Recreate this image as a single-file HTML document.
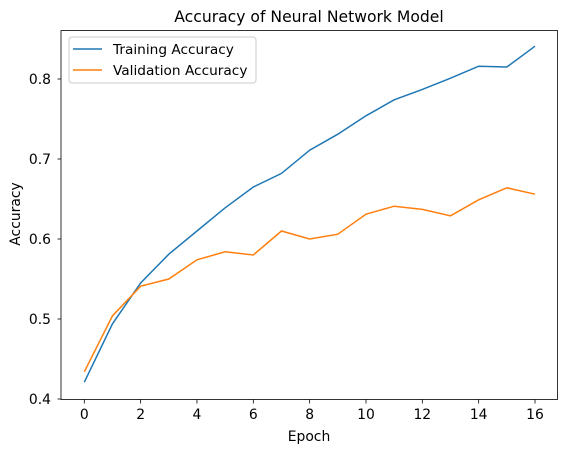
<!DOCTYPE html>
<html><head><meta charset="utf-8"><style>
body{margin:0;background:#fff;}
svg text{font-family:"DejaVu Sans","Liberation Sans",sans-serif;fill:#000;}
</style></head><body>
<svg id="chart" width="567" height="453">
<rect x="0" y="0" width="567" height="453" fill="#fff"/>
<text x="309" y="22" font-size="15.6" text-anchor="middle">Accuracy of Neural Network Model</text>
<g id="ticks"></g>
<g id="series"></g>
<rect x="61" y="30.5" width="496.5" height="369" fill="none" stroke="#000" stroke-width="0.8"/>
<text x="309" y="441" font-size="13.9" text-anchor="middle">Epoch</text>
<text x="20" y="214" font-size="13.9" text-anchor="middle" transform="rotate(-90 20 214)">Accuracy</text>
<g>
<rect x="69" y="37" width="187" height="46" rx="3" fill="#fff" fill-opacity="0.8" stroke="#ccc"/>
<line x1="73" y1="49" x2="102" y2="49" stroke="#1f77b4" stroke-width="1.5"/>
<text x="113" y="54" font-size="13.7">Training Accuracy</text>
<line x1="73" y1="70" x2="102" y2="70" stroke="#ff7f0e" stroke-width="1.5"/>
<text x="113" y="75" font-size="13.7">Validation Accuracy</text>
</g>
</svg>
<script>
const epochs=[0,1,2,3,4,5,6,7,8,9,10,11,12,13,14,15,16];
const trainAcc=[0.421,0.494,0.545,0.581,0.610,0.639,0.665,0.682,0.711,0.731,0.754,0.774,0.787,0.801,0.816,0.815,0.841];
const valAcc=[0.434,0.504,0.541,0.550,0.574,0.584,0.580,0.610,0.600,0.606,0.631,0.641,0.637,0.629,0.649,0.664,0.656];
const xTicks=[0,2,4,6,8,10,12,14,16];
const yTicks=[0.4,0.5,0.6,0.7,0.8];
const NS="http://www.w3.org/2000/svg";
function sx(v){return 84.3+(v-0)*(535-84.3)/16;}
function sy(v){return 399-(v-0.4)*800;}
const tg=document.getElementById('ticks');
xTicks.forEach(t=>{
 const l=document.createElementNS(NS,'line');
 l.setAttribute('x1',sx(t));l.setAttribute('x2',sx(t));l.setAttribute('y1',399.5);l.setAttribute('y2',403.5);l.setAttribute('stroke','#000');l.setAttribute('stroke-width','0.8');
 
 
 tg.appendChild(l);
 const tx=document.createElementNS(NS,'text');
 tx.setAttribute('x',sx(t));tx.setAttribute('y',419);tx.setAttribute('font-size','13.9');tx.setAttribute('text-anchor','middle');tx.textContent=t;
 
 
 tg.appendChild(tx);
});
yTicks.forEach(t=>{
 const l=document.createElementNS(NS,'line');
 l.setAttribute('x1',57.5);l.setAttribute('x2',61);l.setAttribute('y1',sy(t));l.setAttribute('y2',sy(t));l.setAttribute('stroke','#000');l.setAttribute('stroke-width','0.8');
 
 
 tg.appendChild(l);
 const tx=document.createElementNS(NS,'text');
 tx.setAttribute('x',51);tx.setAttribute('y',sy(t)+5);tx.setAttribute('font-size','13.9');tx.setAttribute('text-anchor','end');tx.textContent=t.toFixed(1);
 
 
 tg.appendChild(tx);
});
const sg=document.getElementById('series');
function addLine(vals,color,name){
 const p=document.createElementNS(NS,'polyline');
 p.setAttribute('points',vals.map((v,i)=>sx(epochs[i])+','+sy(v)).join(' '));
 p.setAttribute('fill','none');p.setAttribute('stroke',color);p.setAttribute('stroke-width','1.5');
 
 
 sg.appendChild(p);
}
addLine(trainAcc,'#1f77b4','training-accuracy-line');
addLine(valAcc,'#ff7f0e','validation-accuracy-line');
</script>
</body></html>
